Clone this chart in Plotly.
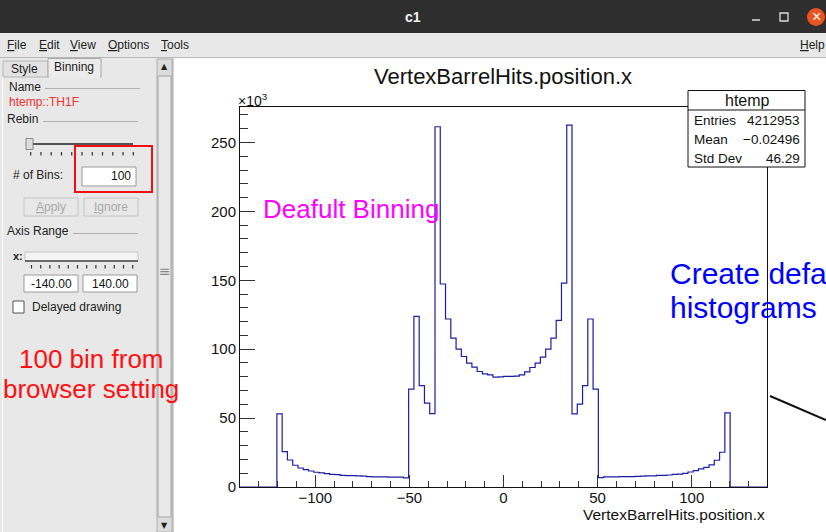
import numpy as np
import plotly.graph_objects as go

# ---------------- data ----------------
X_MIN, X_MAX = -140.0, 140.0
N_BINS = 100
# bin contents in thousands (x10^3), bins 0..99
COUNTS_K = (
    [0.0] * 7
    + [53.0, 25.7, 19.6, 15.8, 13.8, 12.6, 11.6, 10.7, 10.2, 9.7, 9.2, 9.0, 8.5,
       8.3, 8.2, 8.0, 7.9, 7.5, 7.4, 7.3, 7.3, 7.2, 7.2, 7.1, 6.6]
    + [71.0, 123.8, 73.6, 60.8, 53.3]
    + [261.4, 147.3, 121.9, 108.0, 100.0, 94.7, 89.9, 87.0, 83.8, 82.1, 81.4, 79.7,
       79.9, 80.2, 80.2, 80.5, 81.4, 83.6, 86.7, 89.9, 94.2, 100.0, 108.0, 120.9,
       148.0, 262.6]
    + [53.0, 60.1, 73.6, 121.9, 71.0]
    + [6.8, 7.3, 7.4, 7.4, 7.5, 7.5, 7.6, 7.7, 7.9, 8.0, 8.1, 8.4, 8.5, 8.7, 9.1,
       9.3, 9.9, 10.9, 11.9, 13.1, 14.3, 16.0, 19.4, 25.2, 53.8]
    + [0.0] * 7
)
HIST_NAME = "htemp"
VAR_NAME = "VertexBarrelHits.position.x"
STAT_LABELS = ["Entries", "Mean", "Std Dev"]
STAT_VALUES = ["4212953", "\u22120.02496", "46.29"]
X_DTICK, X_MINOR = 50, 10
Y_DTICK, Y_MINOR = 50, 10

# ---------------- geometry helpers ----------------
W, H = 826, 532
ML, MR, MT, MB = 240, 59, 107, 45
PW, PH = W - ML - MR, H - MT - MB
FONT = "Liberation Sans, Arial, sans-serif"


def px(x):
    return (x - ML) / PW


def py(y):
    return (H - MB - y) / PH


shapes, annos = [], []


def rect(x0, y0, x1, y1, fill=None, line=None, lw=1):
    shapes.append(dict(type="rect", xref="paper", yref="paper",
                       x0=px(x0), x1=px(x1), y0=py(y1), y1=py(y0),
                       fillcolor=fill or "rgba(0,0,0,0)",
                       line=dict(color=line or "rgba(0,0,0,0)", width=lw if line else 0),
                       layer="above"))


def seg(x0, y0, x1, y1, color, lw=1):
    shapes.append(dict(type="line", xref="paper", yref="paper",
                       x0=px(x0), x1=px(x1), y0=py(y0), y1=py(y1),
                       line=dict(color=color, width=lw), layer="above"))


def circ(x0, y0, x1, y1, fill):
    shapes.append(dict(type="circle", xref="paper", yref="paper",
                       x0=px(x0), x1=px(x1), y0=py(y1), y1=py(y0),
                       fillcolor=fill, line=dict(width=0), layer="above"))


def txt(x, y, s, size=12, color="#222", anchor="left", family=FONT):
    annos.append(dict(xref="paper", yref="paper", x=px(x), y=py(y), text=s,
                      showarrow=False, xanchor=anchor, yanchor="middle",
                      font=dict(size=size, color=color, family=family),
                      borderpad=0))


# ---------------- histogram ----------------
edges = np.linspace(X_MIN, X_MAX, N_BINS + 1)
y_step = list(COUNTS_K) + [COUNTS_K[-1]]
fig = go.Figure(go.Scatter(x=edges, y=y_step, mode="lines",
                           line=dict(shape="hv", color="#1c1ca6", width=1.2),
                           hoverinfo="skip"))

# ---------------- window chrome ----------------
rect(0, 0, 826, 33, fill="#2e2e2e")
txt(413, 17, "<b>c1</b>", 14, "#f0f0f0", "center")
seg(752, 20, 760, 20, "#dddddd", 1.5)
rect(780, 13, 788, 21, line="#dddddd", lw=1.3)
circ(807, 8, 825, 26, "#e95420")
txt(816, 17, "\u00d7", 16, "white", "center")

rect(0, 33, 826, 57, fill="#e8e8e8")
for word, x in [("<u>F</u>ile", 6), ("<u>E</u>dit", 38), ("<u>V</u>iew", 69),
                ("<u>O</u>ptions", 107), ("<u>T</u>ools", 160)]:
    txt(x, 45, word, 12, "#222")
txt(826, 45, "<u>H</u>elp", 12, "#222", "right")
seg(0, 57.5, 826, 57.5, "#b8b8b8")

# left panel
rect(0, 58, 173, 532, fill="#e8e8e8")
seg(173, 58, 173, 532, "#a0a0a0")
seg(2.5, 77, 2.5, 532, "#ffffff")
# tabs
rect(3, 61, 48, 77, fill="#e2e2e2", line="#b4b4b4")
rect(48, 58.5, 101, 77, fill="#ececec", line="#a8a8a8")
seg(49, 77, 100, 77, "#ececec", 2)
txt(10, 69, "Style", 12)
txt(53, 67, "Binning", 12)
# scrollbar
rect(157, 59, 172, 532, fill="#dcdcdc", line="#b0b0b0")
rect(158, 76, 171, 517, fill="#e9e9e9", line="#a4a4a4")
txt(164.5, 67, "\u25b2", 8, "#222", "center", "DejaVu Sans")
txt(164.5, 525, "\u25bc", 8, "#222", "center", "DejaVu Sans")
txt(164.5, 271, "\u2261", 14, "#888", "center", "DejaVu Sans")
# Name / Rebin
txt(8, 87, "Name", 12)
seg(45, 88.5, 140, 88.5, "#b0b0b0")
txt(8, 102, HIST_NAME + "::TH1F", 12, "#f03030")
txt(6, 119, "Rebin", 12)
seg(43, 121.5, 138, 121.5, "#b0b0b0")
seg(31, 144, 133, 144, "#555555", 2)
rect(26, 138.5, 33, 149.5, fill="#dddddd", line="#888888")
for i in range(11):
    xx = 30.7 + i * 10.26
    seg(xx, 152, xx, 155.5, "#333333", 1.2)
txt(12, 175, "# of Bins:", 12)
rect(82, 167, 136, 186, fill="white", line="#9a9a9a")
txt(132, 176, str(N_BINS), 12, "#111", "right")
rect(75, 146, 152, 192, line="#ee1111", lw=2)
rect(24, 198, 78, 216, fill="#e8e8e8", line="#c4c4c4")
rect(84, 198, 138, 216, fill="#e8e8e8", line="#c4c4c4")
txt(51, 207, "<u>A</u>pply", 12, "#a8a8a8", "center")
txt(111, 207, "<u>I</u>gnore", 12, "#a8a8a8", "center")
# Axis range
txt(6, 231, "Axis Range", 12)
seg(73, 233.5, 138, 233.5, "#b0b0b0")
txt(12, 256, "<b>x:</b>", 11)
rect(25, 252, 138, 261, fill="#f4f4f4", line="#c8c8c8")
seg(25, 261, 138, 261, "#444444", 1.5)
for i in range(12):
    xx = 31.5 + i * 9.2
    seg(xx, 265, xx, 268.5, "#333333", 1.2)
rect(24, 275, 78, 292, fill="white", line="#9a9a9a")
rect(83, 275, 137, 292, fill="white", line="#9a9a9a")
txt(51, 284, "%.2f" % X_MIN, 12, "#111", "center")
txt(110, 284, "%.2f" % X_MAX, 12, "#111", "center")
rect(13, 301, 24, 313, fill="white", line="#555555")
txt(31, 307, "Delayed drawing", 12)

# red note
txt(91.5, 359, "100 bin from", 26, "#ff1010", "center")
txt(91, 389, "browser setting", 26, "#ff1010", "center")

# ---------------- canvas annotations ----------------
txt(503, 76, VAR_NAME, 22, "#111", "center")
txt(766, 514, VAR_NAME, 15.5, "#111", "right")
txt(237, 100, "\u00d710<sup>3</sup>", 14, "#111")
txt(262, 209, "Deafult Binning", 26, "#ff00ff")
txt(669, 273, "Create default", 30, "#0000ff")
txt(669, 307, "histograms", 30, "#0000ff")
seg(770, 396, 826, 420, "#111111", 2)

# stats box
rect(688, 90.5, 805, 167, fill="white", line="#111111", lw=1)
seg(688, 110, 805, 110, "#111111", 1)
txt(747, 100, HIST_NAME, 16, "#111", "center")
for i, (lab, val) in enumerate(zip(STAT_LABELS, STAT_VALUES)):
    yy = 120 + i * 19
    txt(693, yy, lab, 13.5, "#111")
    txt(801, yy, val, 13.5, "#111", "right")

# ---------------- layout ----------------
ymax = 1.05 * max(COUNTS_K)
fig.update_layout(
    width=W, height=H,
    margin=dict(l=ML, r=MR, t=MT, b=MB, pad=0),
    paper_bgcolor="white", plot_bgcolor="white",
    showlegend=False, font=dict(family=FONT, color="#111"),
    shapes=shapes, annotations=annos,
)
fig.update_xaxes(range=[X_MIN, X_MAX], tick0=0, dtick=X_DTICK,
                 ticks="inside", ticklen=12, tickwidth=1, tickcolor="#333",
                 minor=dict(tick0=0, dtick=X_MINOR, ticks="inside", ticklen=6,
                            tickwidth=1, tickcolor="#333"),
                 showline=True, linecolor="#111", linewidth=1, mirror=True,
                 showgrid=False, zeroline=False, ticklabelstandoff=-3,
                 tickfont=dict(size=15, family=FONT, color="#111"))
fig.update_yaxes(range=[0, ymax], tick0=0, dtick=Y_DTICK,
                 ticks="inside", ticklen=15, tickwidth=1, tickcolor="#333",
                 minor=dict(tick0=0, dtick=Y_MINOR, ticks="inside", ticklen=8,
                            tickwidth=1, tickcolor="#333"),
                 showline=True, linecolor="#111", linewidth=1, mirror=True,
                 showgrid=False, zeroline=False,
                 tickfont=dict(size=15, family=FONT, color="#111"))

fig.write_html("out.html")
